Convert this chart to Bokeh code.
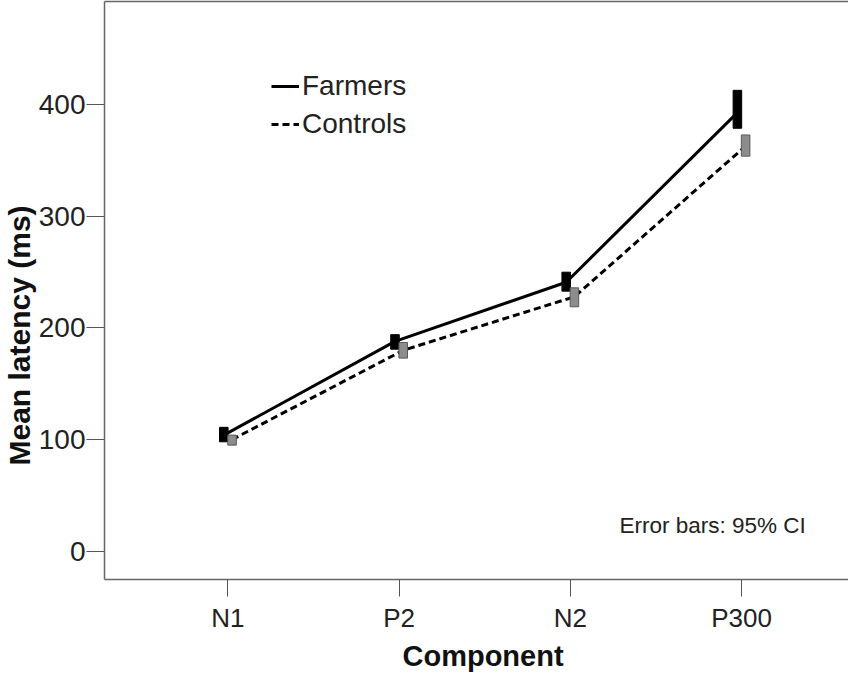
from bokeh.plotting import figure
from bokeh.models import (Range1d, FixedTicker, Label, Legend, LegendItem,
                          LinearAxis, ColumnDataSource, Title)
from bokeh.embed import file_html
from bokeh.resources import INLINE

components = ["N1", "P2", "N2", "P300"]
positions = [1, 2, 3, 4]

farmers_mean = [104, 188, 241, 393]
farmers_lo = [98, 181, 233, 379]
farmers_hi = [111, 194, 250, 413]

controls_mean = [100, 180, 228, 363]
controls_lo = [95, 173, 219, 354]
controls_hi = [104, 187, 236, 373]

y_ticks = [0, 100, 200, 300, 400]

offset = 0.024
bar_w = 0.05

fx = [p - offset for p in positions]
cx = [p + offset for p in positions]

src_f = ColumnDataSource(dict(x=fx, m=farmers_mean, lo=farmers_lo, hi=farmers_hi))
src_c = ColumnDataSource(dict(x=cx, m=controls_mean, lo=controls_lo, hi=controls_hi))

p = figure(width=848, height=674, output_backend="svg", toolbar_location=None,
           x_range=Range1d(0.279, 4.625), y_range=Range1d(-25.4, 492.6),
           min_border_left=104, min_border_right=0, min_border_top=1,
           min_border_bottom=95)
p.outline_line_color = None
p.xgrid.visible = False
p.ygrid.visible = False
p.background_fill_color = "white"
p.border_fill_color = "white"

axis_col = "#666666"
tick_col = "#555555"

# x axis
xa = p.xaxis[0]
xa.ticker = FixedTicker(ticks=positions)
xa.major_label_overrides = {pos: lab for pos, lab in zip(positions, components)}
xa.major_label_text_font = "Liberation Sans"
xa.major_label_text_font_size = "26px"
xa.major_label_text_color = "#222222"
xa.major_tick_out = 17
xa.major_tick_in = 0
xa.minor_tick_out = 0
xa.minor_tick_in = 0
xa.major_label_standoff = 6
xa.axis_line_color = axis_col
xa.axis_line_width = 1.5
xa.major_tick_line_color = tick_col

# y axis
ya = p.yaxis[0]
ya.ticker = FixedTicker(ticks=y_ticks)
ya.major_label_text_font = "Liberation Sans"
ya.major_label_text_font_size = "28px"
ya.major_label_text_color = "#222222"
ya.major_tick_out = 18
ya.major_tick_in = 0
ya.minor_tick_out = 0
ya.minor_tick_in = 0
ya.major_label_standoff = 1
ya.axis_line_color = axis_col
ya.axis_line_width = 1.5
ya.major_tick_line_color = tick_col

# top frame line
top = LinearAxis(ticker=FixedTicker(ticks=[]), major_label_text_font_size="0px",
                 major_tick_out=0, minor_tick_out=0, axis_line_color=axis_col,
                 axis_line_width=1.5)
p.add_layout(top, "above")

# axis titles
p.add_layout(Title(text="Mean latency (ms)", text_font="Liberation Sans",
                   text_font_style="bold", text_font_size="30px",
                   text_color="#111111", align="left", offset=114,
                   standoff=0), "left")
p.add_layout(Title(text="Component", text_font="Liberation Sans",
                   text_font_style="bold", text_font_size="29px",
                   text_color="#111111", align="left", offset=298,
                   standoff=5), "below")

# lines
lf = p.line("x", "m", source=src_f, line_color="black", line_width=3)
lc = p.line("x", "m", source=src_c, line_color="black", line_width=3,
            line_dash="7 4")

# error bars (95% CI)
p.vbar(x="x", width=bar_w, bottom="lo", top="hi", source=src_f,
       fill_color="black", line_color="black", line_width=1)
p.vbar(x="x", width=bar_w, bottom="lo", top="hi", source=src_c,
       fill_color="#8c8c8c", line_color="#5a5a5a", line_width=1)

legend = Legend(items=[LegendItem(label="Farmers", renderers=[lf]),
                       LegendItem(label="Controls", renderers=[lc])],
                location=(167, 436), orientation="vertical",
                label_text_font="Liberation Sans", label_text_font_size="28px",
                label_text_color="#222222", glyph_width=28, glyph_height=38,
                label_height=38, label_standoff=3, spacing=0, padding=0,
                margin=0, border_line_color=None, background_fill_alpha=0)
p.add_layout(legend)

p.add_layout(Label(x=515, y=53.7, x_units="screen", y_units="screen",
                   text="Error bars: 95% CI", text_font="Liberation Sans",
                   text_font_size="22.5px", text_color="#222222",
                   text_baseline="middle", text_align="left"))

open("out.html", "w").write(file_html(p, INLINE))
